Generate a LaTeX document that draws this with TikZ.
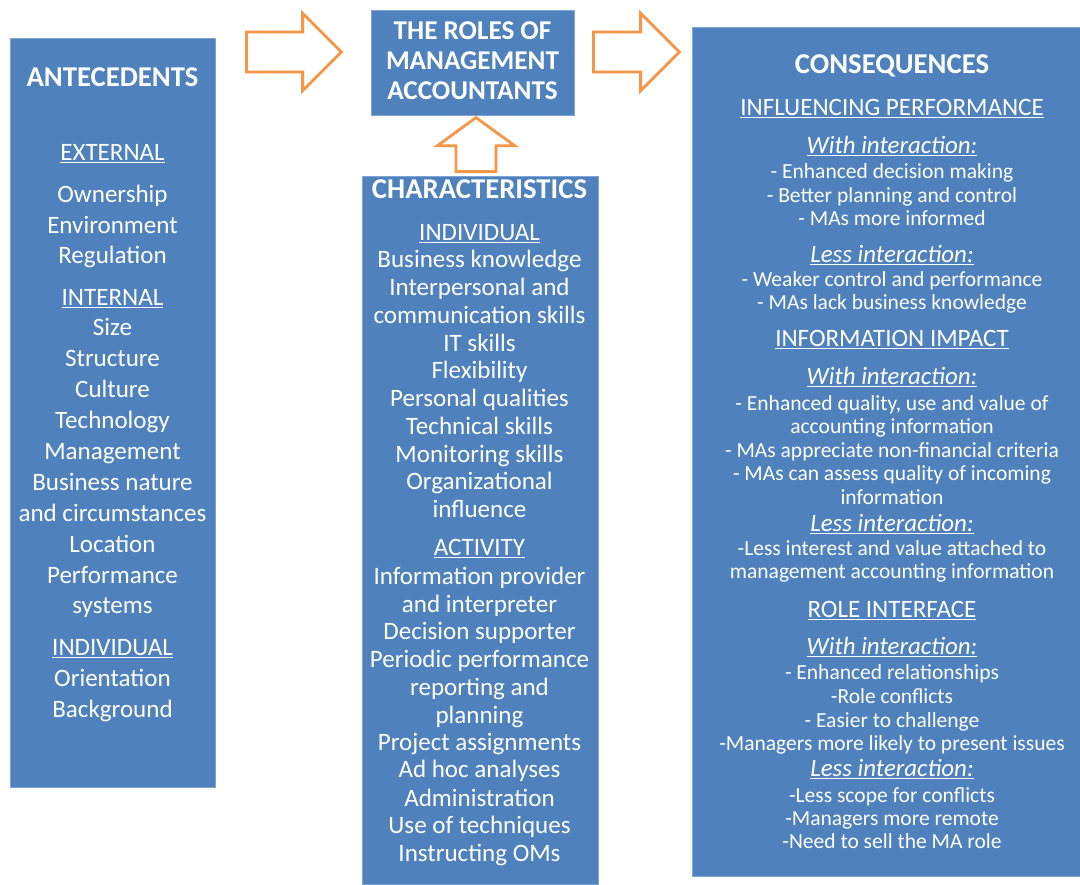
\documentclass[tikz,border=0pt]{standalone}
\usepackage{fontspec}
\setmainfont{Carlito}
\usetikzlibrary{shapes.arrows}

\definecolor{boxblue}{HTML}{4F81BD}
\definecolor{boxedge}{HTML}{7FA5D6}
\definecolor{arrorange}{HTML}{F79646}

\newcommand{\fsz}[1]{\fontsize{#1}{#1}\selectfont}
\def\px{0.025cm}

\begin{document}
\begin{tikzpicture}[x=0.025cm, y=-0.025cm]
        % Define styles
        \tikzset{
            box/.style={rectangle, fill=boxblue, draw=boxedge, line width=0.6pt, inner sep=0pt},
            blockarrow/.style={single arrow, draw=arrorange, fill=white, line width=2pt,
                inner xsep=0pt, inner ysep=13.2pt, single arrow head extend=13.4pt, anchor=tail},
            txt/.style={anchor=base, text=white, inner sep=0pt},
            boxtitle/.style={txt, font=\fsz{20.4}\bfseries},
            antetxt/.style={txt, font=\fsz{17.8}},
            chartxt/.style={txt, font=\fsz{17.8}},
            conshead/.style={txt, font=\fsz{17.8}},
            conswith/.style={txt, font=\fsz{17.7}\itshape},
            consitem/.style={txt, font=\fsz{15.3}}
        }
        \useasboundingbox (0,0) rectangle (1080,884);

        % Boxes
        \node[box, minimum width=205*\px, minimum height=749*\px] (antebox) at (112.5,412.5) {};
        \node[box, minimum width=203*\px, minimum height=105*\px] (rolebox) at (472.5,62.5) {};
        \node[box, minimum width=236*\px, minimum height=708*\px] (charbox) at (480,530) {};
        \node[box, minimum width=388*\px, minimum height=849*\px] (consbox) at (886,451.5) {};

        % Block arrows
        \node[blockarrow, minimum height=95*\px] (arrante) at (245,52) {};
        \node[blockarrow, minimum height=86*\px] (arrcons) at (592,52) {};
        \node[blockarrow, rotate=90, single arrow tip angle=108, minimum height=54*\px] (arrchar) at (476,173) {};

        % Roles of management accountants
        \node[boxtitle, font=\fsz{19.3}\bfseries] (role1) at (472.5,39) {THE ROLES OF};
        \node[boxtitle, font=\fsz{19.3}\bfseries] (role2) at (472.5,69) {MANAGEMENT};
        \node[boxtitle, font=\fsz{19.3}\bfseries] (role3) at (472.5,99) {ACCOUNTANTS};

        % Antecedents
        \node[boxtitle] (antetitle) at (112.5,86) {ANTECEDENTS};
        \foreach \y/\t [count=\i] in {160/\underline{EXTERNAL}, 202/Ownership, 233/Environment,
            263/Regulation, 305/\underline{INTERNAL}, 335/Size, 366/Structure, 397/Culture,
            428/Technology, 459/Management, 490/Business nature, 521/and circumstances,
            552/Location, 583/Performance, 613/systems, 655/\underline{INDIVIDUAL},
            686/Orientation, 717/Background}
            \node[antetxt] (ante\i) at (112.5,\y) {\t};

        % Characteristics
        \node[boxtitle] (chartitle) at (479.5,198) {CHARACTERISTICS};
        \foreach \y/\t [count=\i] in {240/\underline{INDIVIDUAL}, 267/Business knowledge,
            295/Interpersonal and, 323/communication skills, 351/IT skills, 378/Flexibility,
            406/Personal qualities, 434/Technical skills, 462/Monitoring skills,
            489/Organizational, 517/influence, 555/\underline{ACTIVITY},
            584/Information provider, 612/and interpreter, 639/Decision supporter,
            667/Periodic performance, 695/reporting and, 723/planning,
            750/Project assignments, 777/Ad hoc analyses, 806/Administration,
            833/Use of techniques, 861/Instructing OMs}
            \node[chartxt] (char\i) at (479.5,\y) {\t};

        % Consequences
        \node[boxtitle] (constitle) at (892,73) {CONSEQUENCES};
        \foreach \y/\s/\t [count=\i] in {
            115/conshead/\underline{INFLUENCING PERFORMANCE},
            153/conswith/\underline{With interaction:},
            178/consitem/- Enhanced decision making,
            202/consitem/- Better planning and control,
            225/consitem/- MAs more informed,
            262/conswith/\underline{Less interaction:},
            286/consitem/- Weaker control and performance,
            309/consitem/- MAs lack business knowledge,
            346/conshead/\underline{INFORMATION IMPACT},
            384/conswith/\underline{With interaction:},
            410/consitem/{- Enhanced quality, use and value of},
            433/consitem/accounting information,
            457/consitem/- MAs appreciate non-financial criteria,
            480/consitem/- MAs can assess quality of incoming,
            504/consitem/information,
            531/conswith/\underline{Less interaction:},
            555/consitem/-Less interest and value attached to,
            578/consitem/management accounting information,
            617/conshead/\underline{ROLE INTERFACE},
            654/conswith/\underline{With interaction:},
            679/consitem/- Enhanced relationships,
            703/consitem/-Role conflicts,
            727/consitem/- Easier to challenge,
            750/consitem/-Managers more likely to present issues,
            776/conswith/\underline{Less interaction:},
            802/consitem/-Less scope for conflicts,
            825/consitem/-Managers more remote,
            848/consitem/-Need to sell the MA role}
            \node[\s] (cons\i) at (892,\y) {\t};
    \end{tikzpicture}
\end{document}
